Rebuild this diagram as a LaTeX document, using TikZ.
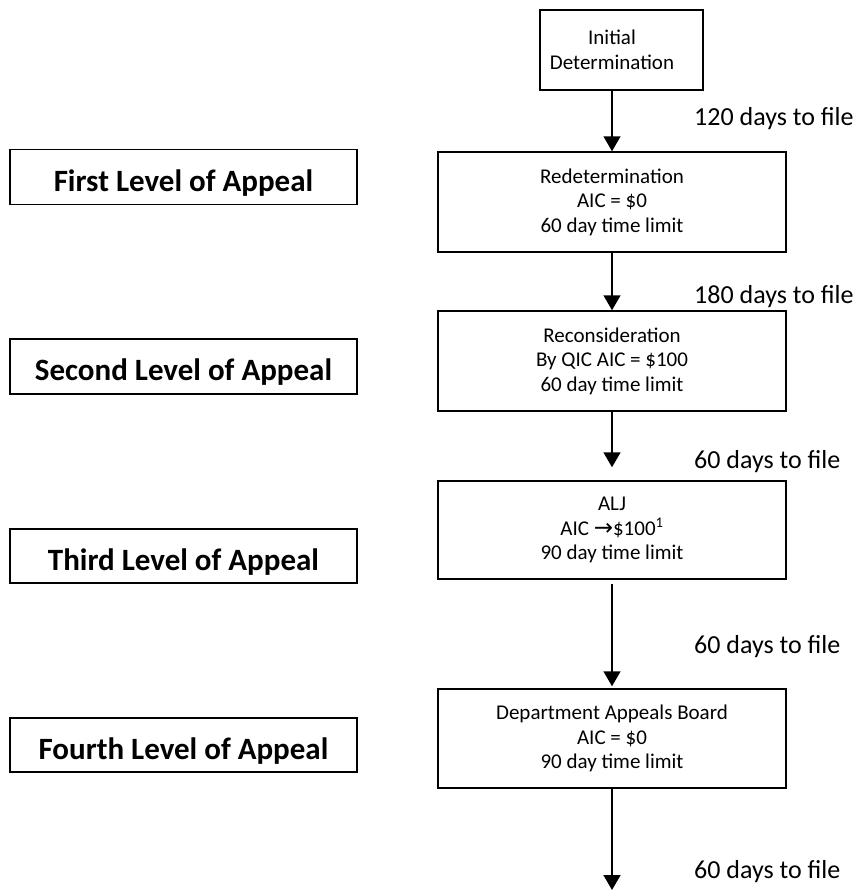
\documentclass[tikz,border=0pt]{standalone}
\usepackage{fontspec}
\setmainfont{Carlito}
\newfontfamily\symfont{DejaVu Sans}
\usepackage{tikz}
\usetikzlibrary{arrows.meta}

\begin{document}
\begin{tikzpicture}[x=1pt,y=-1pt,>={Triangle[length=15pt,width=17pt]},
	stage/.style={draw,line width=1.5pt,minimum width=348pt,minimum height=99pt,align=center,inner sep=2pt,
		font=\fontsize{21}{24.5}\selectfont},
	level/.style={draw,line width=1.5pt,minimum width=347pt,minimum height=55pt,inner sep=2pt,
		text height=28pt,text depth=0pt,font=\fontsize{31}{36}\selectfont\bfseries},
	days/.style={anchor=base west,inner sep=0pt,font=\fontsize{26}{30}\selectfont}]
	\useasboundingbox (0,0) rectangle (857,891);

	\node[stage,minimum width=163pt,minimum height=80pt,
		label={[xshift=-9.5pt,align=center,font=\fontsize{21}{24.5}\selectfont]center:Initial\\Determination}] (init) at (621.5,50) {};
	\node[stage,minimum height=100pt] (redet) at (612,202) {Redetermination\\AIC = \$0\\60 day time limit};
	\node[stage,minimum height=100pt] (recon) at (612,361) {Reconsideration\\By QIC AIC = \$100\\60 day time limit};
	\node[stage,minimum height=98pt] (alj) at (612,530) {ALJ\\AIC {\symfont\fontsize{23}{24.5}\selectfont→}\$100\textsuperscript{1}\\90 day time limit};
	\node[stage] (board) at (612,738.5) {Department Appeals Board\\AIC = \$0\\90 day time limit};
	\coordinate (out) at (612,890);

	\node[level] (first) at (183.5,177) {First Level of Appeal};
	\node[level] (second) at (183.5,366.5) {Second Level of Appeal};
	\node[level,minimum height=54pt] (third) at (183.5,556) {Third Level of Appeal};
	\node[level,minimum height=54pt] (fourth) at (183.5,745) {Fourth Level of Appeal};

	\node[days] (file1) at (694,125) {120 days to file};
	\node[days] (file2) at (694,303) {180 days to file};
	\node[days] (file3) at (694,468) {60 days to file};
	\node[days] (file4) at (694,653) {60 days to file};
	\node[days] (file5) at (694,878) {60 days to file};

	\draw[->,line width=1.5pt] (init.south -| redet) -- (redet);
	\draw[->,line width=1.5pt] (redet) -- (recon);
	\draw[->,line width=1.5pt,shorten >=13pt] (recon) -- (alj);
	\draw[->,line width=1.5pt,shorten <=4pt,shorten >=2pt] (alj) -- (board);
	\draw[->,line width=1.5pt] (board) -- (out);
\end{tikzpicture}
\end{document}
